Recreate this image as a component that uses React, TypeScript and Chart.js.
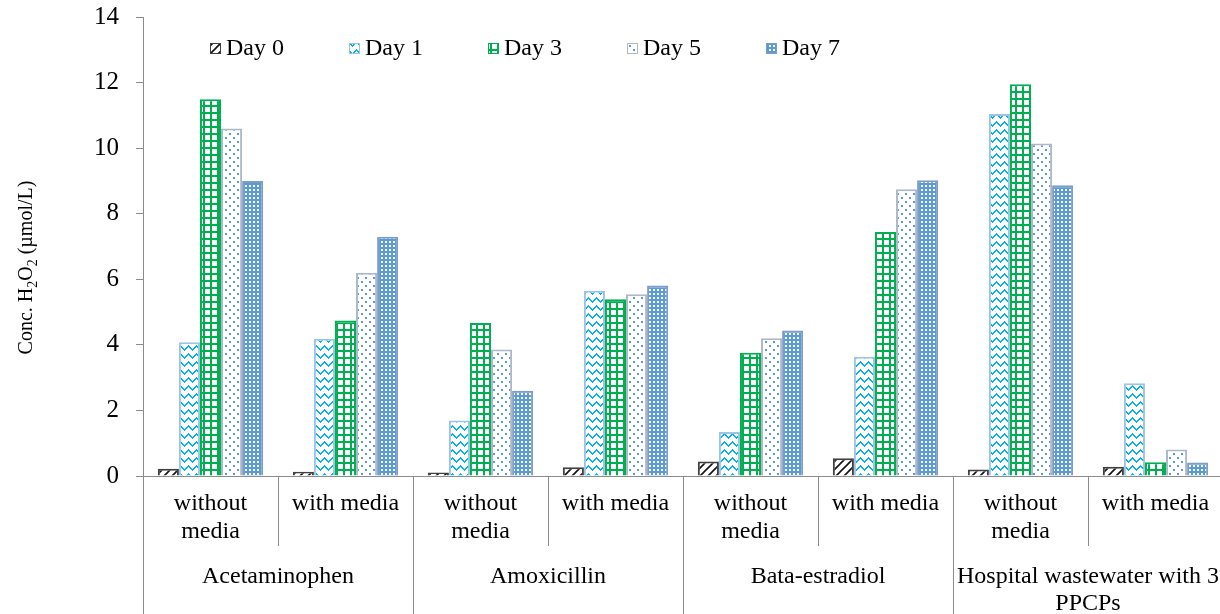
import React, { useEffect, useRef } from "react";
import { Chart, registerables } from "chart.js";

Chart.register(...registerables);

// Sub-categories along the x axis (two per compound)
const subLabels: string[][] = [
  ["without", "media"], ["with media"],
  ["without", "media"], ["with media"],
  ["without", "media"], ["with media"],
  ["without", "media"], ["with media"],
];

// Compound groups, each spanning two sub-categories
const groupLabels: string[][] = [
  ["Acetaminophen"],
  ["Amoxicillin"],
  ["Bata-estradiol"],
  ["Hospital wastewater with 3", "PPCPs"],
];

const seriesNames = ["Day 0", "Day 1", "Day 3", "Day 5", "Day 7"];

// H2O2 concentration (µmol/L)
const day0 = [0.22, 0.13, 0.11, 0.27, 0.44, 0.54, 0.2, 0.28];
const day1 = [4.08, 4.19, 1.69, 5.65, 1.34, 3.64, 11.04, 2.83];
const day3 = [11.49, 4.74, 4.67, 5.39, 3.76, 7.44, 11.95, 0.42];
const day5 = [10.6, 6.2, 3.86, 5.54, 4.2, 8.75, 10.14, 0.81];
const day7 = [9.0, 7.3, 2.6, 5.81, 4.44, 9.02, 8.87, 0.41];

const yMin = 0;
const yMax = 14;
const yStep = 2;

const yTitleParts: [string, boolean][] = [
  ["Conc. H", false],
  ["2", true],
  ["O", false],
  ["2", true],
  [" (µmol/L)", false],
];

const AXIS = "#8c8c8c";
const FONT = '"Liberation Serif", "Times New Roman", serif';

function tile(w: number, h: number, paint: (c: CanvasRenderingContext2D) => void) {
  const cv = document.createElement("canvas");
  cv.width = w;
  cv.height = h;
  const c = cv.getContext("2d")!;
  paint(c);
  return cv;
}

function makePatterns(ctx: CanvasRenderingContext2D) {
  // Day 0: upward diagonal hatch
  const hatch = tile(8, 8, (c) => {
    c.fillStyle = "#fff";
    c.fillRect(0, 0, 8, 8);
    c.strokeStyle = "#111";
    c.lineWidth = 1.6;
    c.beginPath();
    c.moveTo(-1, 9); c.lineTo(9, -1);
    c.moveTo(-1, 1); c.lineTo(1, -1);
    c.moveTo(7, 9); c.lineTo(9, 7);
    c.stroke();
  });
  // Day 1: zig-zag
  const zig = tile(8, 8, (c) => {
    c.fillStyle = "#fff";
    c.fillRect(0, 0, 8, 8);
    c.fillStyle = "#00B0F0";
    const ys = [5, 4, 3, 2, 1, 2, 3, 4];
    ys.forEach((y, i) => c.fillRect(i, y, 1, 2));
  });
  // Day 3: large grid
  const grid = tile(7, 7, (c) => {
    c.fillStyle = "#fff";
    c.fillRect(0, 0, 7, 7);
    c.fillStyle = "#00B050";
    c.fillRect(0, 0, 7, 2);
    c.fillRect(0, 0, 2, 7);
  });
  // Day 5: sparse dots
  const dots = tile(8, 8, (c) => {
    c.fillStyle = "#fff";
    c.fillRect(0, 0, 8, 8);
    c.fillStyle = "#5B9BD5";
    c.fillRect(1, 1, 2, 2);
    c.fillRect(5, 5, 2, 2);
  });
  // Day 7: solid blue with white dots
  const dense = tile(4, 4, (c) => {
    c.fillStyle = "#5B9BD5";
    c.fillRect(0, 0, 4, 4);
    c.fillStyle = "#fff";
    c.fillRect(1, 1, 2, 2);
  });
  return [hatch, zig, grid, dots, dense].map((cv) => ctx.createPattern(cv, "repeat")!);
}

const borderColors = ["#404040", "#9DC3E6", "#00B050", "#ADB9CA", "#7F9CC8"];

const decorPlugin = {
  id: "decor",
  afterDraw(chart: any) {
    const { ctx, chartArea } = chart;
    const x = chart.scales.x;
    const bottom = chartArea.bottom;
    const n = subLabels.length;
    const half = (x.getPixelForValue(1) - x.getPixelForValue(0)) / 2;

    ctx.save();
    // category separators below the axis
    ctx.strokeStyle = AXIS;
    ctx.lineWidth = 1;
    for (let i = 0; i <= n; i++) {
      const px = i < n ? x.getPixelForValue(i) - half : x.getPixelForValue(n - 1) + half;
      const yEnd = i % 2 === 0 ? chart.height : bottom + 70;
      const xx = Math.round(px) + 0.5;
      ctx.beginPath();
      ctx.moveTo(xx, bottom);
      ctx.lineTo(xx, yEnd);
      ctx.stroke();
    }

    ctx.fillStyle = "#000";
    ctx.textAlign = "center";
    ctx.textBaseline = "middle";
    ctx.font = `24px ${FONT}`;
    subLabels.forEach((lines, i) => {
      const cx = x.getPixelForValue(i);
      lines.forEach((t, j) => ctx.fillText(t, cx, bottom + 28 + j * 28));
    });
    groupLabels.forEach((lines, g) => {
      const cx = (x.getPixelForValue(2 * g) + x.getPixelForValue(2 * g + 1)) / 2;
      lines.forEach((t, j) => ctx.fillText(t, cx, bottom + 101 + j * 27));
    });

    // legend inside the plot area
    const ds = chart.data.datasets;
    const lx0 = chartArea.left + 67;
    const ly = chartArea.top + 31;
    ctx.textAlign = "left";
    ds.forEach((d: any, k: number) => {
      const bx = lx0 + k * 139;
      ctx.fillStyle = d.backgroundColor;
      ctx.fillRect(bx, ly - 5, 11, 11);
      ctx.strokeStyle = d.borderColor;
      ctx.lineWidth = 1;
      ctx.strokeRect(bx + 0.5, ly - 4.5, 10, 10);
      ctx.fillStyle = "#000";
      ctx.font = `24px ${FONT}`;
      ctx.fillText(d.label, bx + 16, ly + 1);
    });

    // y axis title with subscripts
    const mainFont = `20px ${FONT}`;
    const subFont = `14px ${FONT}`;
    let total = 0;
    yTitleParts.forEach(([t, sub]) => {
      ctx.font = sub ? subFont : mainFont;
      total += ctx.measureText(t).width;
    });
    ctx.translate(32, (chartArea.top + chartArea.bottom) / 2 + 21);
    ctx.rotate(-Math.PI / 2);
    ctx.textBaseline = "alphabetic";
    let cx = -total / 2;
    yTitleParts.forEach(([t, sub]) => {
      ctx.font = sub ? subFont : mainFont;
      ctx.fillText(t, cx, sub ? 5 : 0);
      cx += ctx.measureText(t).width;
    });
    ctx.restore();
  },
};

export default function App() {
  const ref = useRef<HTMLCanvasElement | null>(null);

  useEffect(() => {
    const canvas = ref.current!;
    const ctx = canvas.getContext("2d")!;
    const patterns = makePatterns(ctx);
    const series = [day0, day1, day3, day5, day7];

    const chart = new Chart(canvas, {
      type: "bar",
      data: {
        labels: subLabels.map((l) => l.join(" ")),
        datasets: series.map((data, k) => ({
          label: seriesNames[k],
          data,
          backgroundColor: patterns[k] as any,
          borderColor: borderColors[k],
          borderWidth: 2,
          categoryPercentage: 0.78,
          barPercentage: 1,
        })),
      },
      options: {
        responsive: false,
        animation: false,
        layout: { padding: { top: 17, right: 5, bottom: 0, left: 0 } },
        plugins: { legend: { display: false }, tooltip: { enabled: false } },
        scales: {
          x: {
            ticks: { display: false },
            grid: { display: false },
            border: { display: true, color: AXIS, width: 1 },
            afterFit: (s: any) => { s.height = 138; },
          },
          y: {
            min: yMin,
            max: yMax,
            ticks: {
              stepSize: yStep,
              color: "#000",
              padding: 17,
              font: { family: FONT, size: 25 },
            },
            grid: { drawOnChartArea: false, drawTicks: true, tickLength: 7, color: AXIS },
            border: { display: true, color: AXIS, width: 1 },
            afterFit: (s: any) => {
              s.width = 143;
              s.paddingTop = 0;
              s.paddingBottom = 0;
            },
          },
        },
      },
      plugins: [decorPlugin],
    });
    return () => chart.destroy();
  }, []);

  return (
    <div style={{ position: "fixed", left: 0, top: 0, width: 1220, height: 614, overflow: "hidden", background: "#fff" }}>
      <canvas ref={ref} width={1228} height={614} style={{ width: 1228, height: 614, display: "block" }} />
    </div>
  );
}
